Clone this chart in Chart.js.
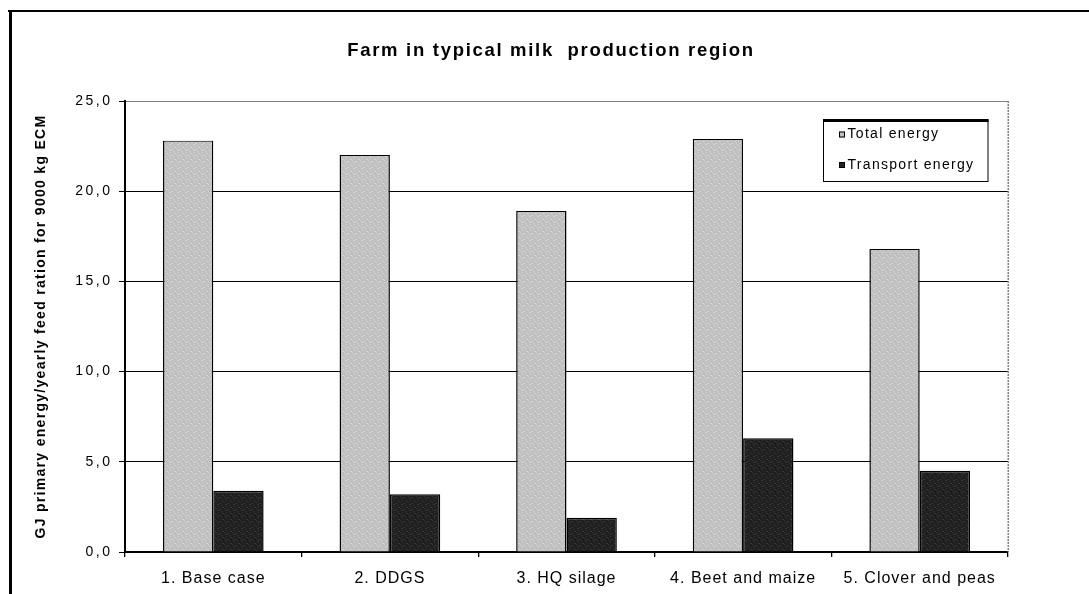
<!DOCTYPE html>
<html>
<head>
<meta charset="utf-8">
<script src="https://cdn.jsdelivr.net/npm/chart.js@4/dist/chart.umd.min.js"></script>
<style>
  html, body { margin: 0; padding: 0; background: #fff; overflow: hidden; }
  canvas { display: block; }
</style>
</head>
<body>
<canvas id="chart" width="1089" height="594"></canvas>
<script>
// ---- chart data ----
const chartTitle = 'Farm in typical milk  production region';
const yAxisTitle = 'GJ primary energy/yearly feed ration for 9000 kg ECM';
const categories = ['1. Base case', '2. DDGS', '3. HQ silage', '4. Beet and maize', '5. Clover and peas'];
const seriesNames = ['Total energy', 'Transport energy'];
const totalEnergy = [22.8, 22.0, 18.9, 22.9, 16.8];
const transportEnergy = [3.4, 3.2, 1.9, 6.3, 4.5];
const yTicks = [0, 5, 10, 15, 20, 25];
const yTickLabels = ['0,0', '5,0', '10,0', '15,0', '20,0', '25,0'];

const FONT = "'Liberation Sans', Arial, Helvetica, sans-serif";
const canvas = document.getElementById('chart');
const ctx = canvas.getContext('2d');

// Stippled fills for the bars (small repeating tile)
function speckle(base, spot) {
  const tile = document.createElement('canvas');
  tile.width = 8; tile.height = 6;
  const g = tile.getContext('2d');
  g.fillStyle = base; g.fillRect(0, 0, 8, 6);
  g.fillStyle = spot;
  [[1, 0, 2], [5, 1, 1], [2, 2, 1], [6, 3, 2], [0, 4, 1], [3, 5, 2]]
    .forEach(([x, y, w]) => g.fillRect(x, y, w, 1));
  return ctx.createPattern(tile, 'repeat');
}
const swatchColors = ['#c0c0c0', '#222222'];
const fills = [speckle('#bfbfbf', '#d3d3d3'), speckle('#1f1f1f', '#373737')];

// Wraps a drawing method so its text is rendered with extra letter spacing
function withSpacing(obj, method, spacing) {
  if (!obj || obj['_spaced_' + method]) return;
  const orig = obj[method];
  obj[method] = function (...args) {
    const c = this.ctx;
    const prev = c.letterSpacing;
    c.letterSpacing = spacing + 'px';
    try { return orig.apply(this, args); } finally { c.letterSpacing = prev; }
  };
  obj['_spaced_' + method] = true;
}

const spacingPlugin = {
  id: 'spacing',
  afterLayout(chart) {
    // centre the title over the framed drawing rather than the whole canvas
    const t = chart.titleBlock;
    if (t) { t.left = 94; t.right = 1008; t.width = t.right - t.left; }
  },
  beforeDraw(chart) {
    withSpacing(chart.scales.x, 'drawLabels', 1.0);
    withSpacing(chart.scales.y, 'drawLabels', 2.5);
    withSpacing(chart.scales.y, 'drawTitle', 1.3);
    withSpacing(chart.titleBlock, 'draw', 1.7);
  }
};

// White page with the black frame on the top and left edges
const framePlugin = {
  id: 'frame',
  beforeDraw(chart) {
    const c = chart.ctx;
    c.save();
    c.fillStyle = '#fff';
    c.fillRect(0, 0, chart.width, chart.height);
    c.fillStyle = '#000';
    c.fillRect(8, 10, chart.width - 8, 2);
    c.fillRect(9, 10, 3, chart.height - 10);
    c.restore();
  },
  afterDraw(chart) {
    const a = chart.chartArea;
    const c = chart.ctx;
    c.save();
    c.strokeStyle = '#808080';
    c.lineWidth = 1.5;
    c.setLineDash([2, 1]);
    c.beginPath();
    c.moveTo(a.right + 0.25, a.top);
    c.lineTo(a.right + 0.25, a.bottom);
    c.stroke();
    c.restore();
  }
};

// Boxed legend inside the plot area, upper right
const boxLegendPlugin = {
  id: 'boxLegend',
  afterDraw(chart) {
    const c = chart.ctx;
    const box = { x: 823, y: 119.5, w: 165.5, h: 62.5 };
    const rows = [134.5, 165];
    c.save();
    c.fillStyle = '#fff';
    c.fillRect(box.x, box.y, box.w, box.h);
    c.strokeStyle = '#000';
    c.lineWidth = 1;
    c.strokeRect(box.x + 0.5, box.y + 0.5, box.w - 1, box.h - 1);
    c.fillStyle = '#000';
    c.fillRect(box.x, box.y - 0.5, box.w, 3);
    chart.data.datasets.forEach((ds, i) => {
      const y = rows[i];
      c.fillStyle = swatchColors[i];
      c.fillRect(839, y - 3, 6, 6);
      c.strokeStyle = '#000';
      c.strokeRect(839.5, y - 2.5, 5, 5);
      c.fillStyle = '#000';
      c.font = '14px ' + FONT;
      c.textBaseline = 'middle';
      c.textAlign = 'left';
      c.letterSpacing = '1.3px';
      c.fillText(ds.label, 847.5, y);
      c.letterSpacing = '0px';
    });
    c.restore();
  }
};

Chart.defaults.font.family = FONT;
Chart.defaults.color = '#000';

new Chart(ctx, {
  type: 'bar',
  data: {
    labels: categories,
    datasets: [
      {
        label: seriesNames[0],
        data: totalEnergy,
        backgroundColor: fills[0],
        borderColor: '#000',
        borderWidth: { top: 1, left: 1.5, right: 1.5, bottom: 0 }
      },
      {
        label: seriesNames[1],
        data: transportEnergy,
        backgroundColor: fills[1],
        borderColor: '#000',
        borderWidth: { top: 1.5, left: 1.5, right: 1.5, bottom: 0 }
      }
    ]
  },
  options: {
    responsive: false,
    animation: false,
    devicePixelRatio: 1,
    datasets: { bar: { categoryPercentage: 0.57, barPercentage: 1.0 } },
    layout: { padding: { left: 0, right: 81, top: 0, bottom: 0 } },
    plugins: {
      legend: { display: false },
      tooltip: { enabled: false },
      title: {
        display: true,
        text: chartTitle,
        color: '#000',
        font: { size: 18.5, weight: 'bold', family: FONT },
        padding: { top: 39.6, bottom: 39.2 }
      }
    },
    scales: {
      x: {
        afterFit(scale) { scale.height = 42; },
        grid: {
          offset: true,
          drawOnChartArea: false,
          drawTicks: true,
          tickLength: 5,
          color: '#000',
          lineWidth: 1.3
        },
        border: { display: true, color: '#000', width: 1.5 },
        ticks: {
          color: '#000',
          font: { size: 16, family: FONT },
          padding: 12.4,
          maxRotation: 0,
          autoSkip: false
        }
      },
      y: {
        min: 0,
        max: 25,
        afterFit(scale) { scale.width = 125; },
        afterBuildTicks(scale) { scale.ticks = yTicks.map(v => ({ value: v })); },
        grid: {
          drawTicks: true,
          tickLength: 6,
          color: (c) => (c.tick && c.tick.value === 25 ? '#808080' : '#000'),
          tickColor: '#000',
          lineWidth: 1
        },
        border: { display: true, color: '#000', width: 2 },
        ticks: {
          color: '#000',
          font: { size: 14, family: FONT },
          padding: 6.5,
          callback: (value, index) => yTickLabels[index]
        },
        title: {
          display: true,
          text: yAxisTitle,
          color: '#000',
          font: { size: 14, weight: 'bold', family: FONT },
          padding: { top: 33.2, bottom: 0 }
        }
      }
    }
  },
  plugins: [framePlugin, spacingPlugin, boxLegendPlugin]
});
</script>
</body>
</html>
